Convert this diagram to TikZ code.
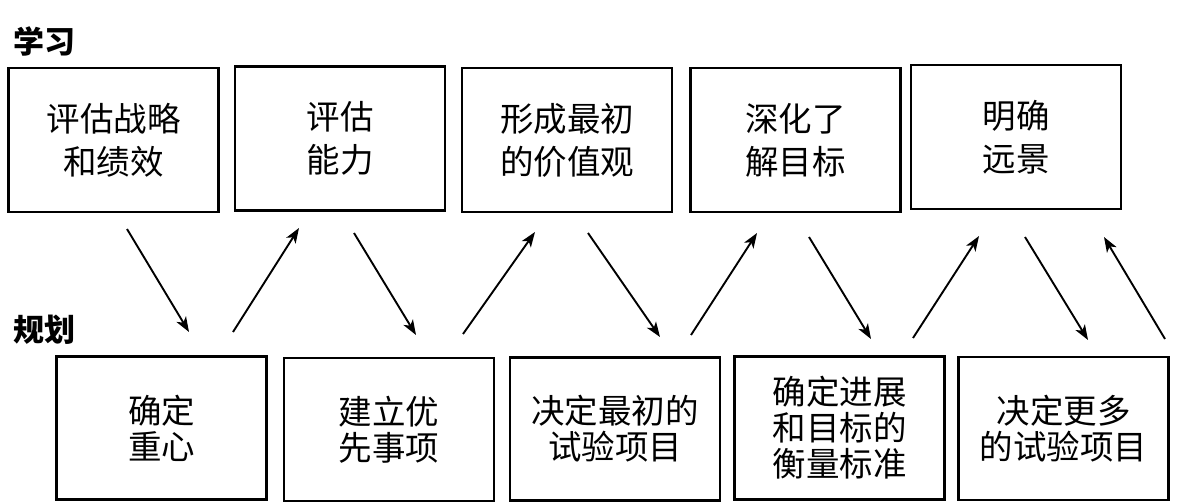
\documentclass[tikz,border=0pt]{standalone}
\usepackage{fontspec}
\newfontfamily\cjk{Noto Sans CJK SC}
\usetikzlibrary{arrows.meta}
\begin{document}
\begin{tikzpicture}[x=1pt,y=-1pt,
  topbox/.style={draw, line width=2.7pt, inner sep=0pt, align=center,
    minimum width=210pt, minimum height=144pt,
    font=\cjk\fontsize{33.5}{43}\selectfont},
  botbox/.style={draw, line width=2.7pt, inner sep=0pt, align=center,
    minimum width=210pt, minimum height=143pt,
    font=\cjk\fontsize{33.5}{36}\selectfont},
  lbl/.style={inner sep=0pt, font=\cjk\bfseries\fontsize{31}{31}\selectfont},
  flow/.style={line width=1.9pt, -{Stealth[length=15pt,width=11pt,inset=4pt]}}]
\useasboundingbox (0,0) rectangle (1182,503);

\node[lbl] (learn) at (44,41) {学习};
\node[lbl] (plan) at (44,330) {规划};

\node[topbox] (t1) at (113.5,140) {评估战略\\和绩效};
\node[topbox] (t2) at (340,138.5) {评估\\能力};
\node[topbox] (t3) at (567,140) {形成最初\\的价值观};
\node[topbox] (t4) at (795.5,140) {深化了\\解目标};
\node[topbox] (t5) at (1016,137) {明确\\远景};

\node[botbox] (b1) at (161.5,428) {确定\\重心};
\node[botbox] (b2) at (389,429.5) {建立优\\先事项};
\node[botbox] (b3) at (615,429) {决定最初的\\试验项目};
\node[botbox] (b4) at (839.5,428) {确定进展\\和目标的\\衡量标准};
\node[botbox] (b5) at (1063.5,428.5) {决定更多\\的试验项目};

\coordinate (s1) at (127,229);  \coordinate (e1) at (189,332);
\coordinate (s2) at (233,332);  \coordinate (e2) at (299,228);
\coordinate (s3) at (354,233);  \coordinate (e3) at (416,335);
\coordinate (s4) at (463,334);  \coordinate (e4) at (535,232);
\coordinate (s5) at (588,233);  \coordinate (e5) at (660,337);
\coordinate (s6) at (691,335);  \coordinate (e6) at (757,233);
\coordinate (s7) at (809,237);  \coordinate (e7) at (871,339);
\coordinate (s8) at (913,338);  \coordinate (e8) at (979,236);
\coordinate (s9) at (1025,237); \coordinate (e9) at (1088,340);
\coordinate (s10) at (1165,339); \coordinate (e10) at (1104,237);

\foreach \i in {1,...,10} { \draw[flow] (s\i) -- (e\i); }
\end{tikzpicture}
\end{document}
